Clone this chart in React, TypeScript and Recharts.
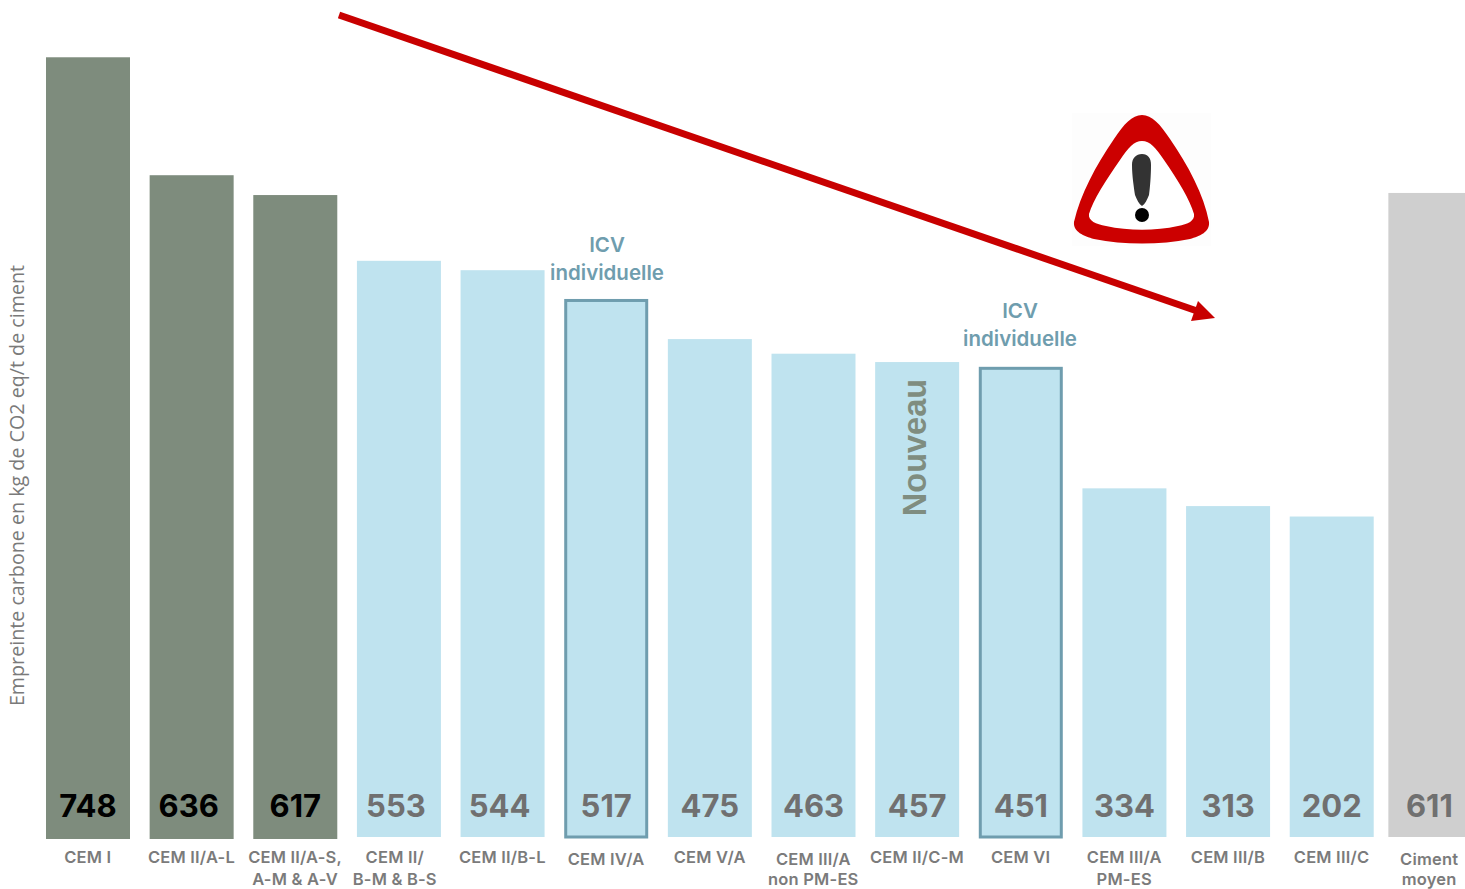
import React from 'react';
import { BarChart, Bar, XAxis, YAxis, LabelList } from 'recharts';

// bar heights; the printed labels do not always match them
const categories = [
  'CEM I', 'CEM II/A-L', 'CEM II/A-S,|A-M & A-V', 'CEM II/|B-M & B-S', 'CEM II/B-L', 'CEM IV/A', 'CEM V/A',
  'CEM III/A|non PM-ES', 'CEM II/C-M', 'CEM VI', 'CEM III/A|PM-ES', 'CEM III/B', 'CEM III/C', 'Ciment|moyen',
];
const heights = [748, 635, 616, 553, 544, 515, 478, 464, 456, 450, 335, 318, 308, 618];
const printedValues = [748, 636, 617, 553, 544, 517, 475, 463, 457, 451, 334, 313, 202, 611];
const groups = ['base', 'base', 'base', 'low', 'low', 'icv', 'low', 'low', 'low', 'icv', 'low', 'low', 'low', 'avg'];
const notes = ['', '', '', '', '', '', '', '', 'Nouveau', '', '', '', '', ''];

const chartData = categories.map((name, i) => ({
  name,
  height: heights[i],
  printed: printedValues[i],
  group: groups[i],
  note: notes[i],
}));

const FILL: Record<string, string> = { base: '#7e8c7d', low: '#bfe3ef', icv: '#bfe3ef', avg: '#cfcfcf' };
const TEAL = '#6f9dae';
const FONT = 'Inter, sans-serif';

const BarShape = (props: any) => {
  const { x, y, width, height, index, payload } = props;
  // the average bar sits a little closer to its neighbour than the regular step
  const shift = index === 13 ? -5 : 0;
  const isIcv = payload.group === 'icv';
  return (
    <rect
      x={x + shift + (isIcv ? 1.5 : 0)}
      y={y}
      width={width - (isIcv ? 3 : 0)}
      height={height + (payload.group === 'base' ? 1 : -1)}
      fill={FILL[payload.group]}
      stroke={isIcv ? TEAL : 'none'}
      strokeWidth={isIcv ? 3 : 0}
    />
  );
};

const valueNudge: Record<number, number> = { 1: -3, 3: -3, 4: -3, 13: -6 };

const ValueLabel = (props: any) => {
  const { x, width, index, value } = props;
  return (
    <text
      x={x + width / 2 + (valueNudge[index] || 0)}
      y={817}
      textAnchor="middle"
      fontFamily={FONT}
      fontWeight={700}
      fontSize={31}
      fill={index < 3 ? '#000000' : '#707070'}
    >
      {value}
    </text>
  );
};

const NoteLabel = (props: any) => {
  const { x, width, value } = props;
  if (!value) return null;
  return (
    <text
      transform={`translate(${x + width / 2 + 9} 447.5) rotate(-90)`}
      textAnchor="middle"
      fontFamily='"Liberation Sans", sans-serif'
      fontWeight={700}
      fontSize={32.5}
      fill="#7f8d80"
    >
      {value}
    </text>
  );
};

const tickNudge: Record<number, number> = { 3: -4, 13: -6 };
const tickDrop: Record<number, number> = { 5: 2, 7: 2, 13: 2 };

const CategoryTick = (props: any) => {
  const { x, index, payload } = props;
  const lines = String(payload.value).split('|');
  return (
    <g>
      {lines.map((line, i) => (
        <text
          key={line}
          x={x + (tickNudge[index] || 0)}
          y={i === 0 ? 863 + (tickDrop[index] || 0) : 884.5}
          textAnchor="middle"
          fontFamily={FONT}
          fontWeight={600}
          fontSize={16.5}
          letterSpacing={0.2}
          fill="#7b7b7b"
        >
          {line}
        </text>
      ))}
    </g>
  );
};

const Arrow = () => (
  <g>
    <line x1={339} y1={15} x2={1200} y2={312} stroke="#c80000" strokeWidth={7} />
    <polygon points="1215,318 1198,301 1191,321" fill="#c80000" />
  </g>
);

const WarningSign = () => (
  <g>
    <rect x={1072} y={113} width={139} height={133} fill="#fdfdfd" />
    <path
      d="M1142 115 C1152 115 1160 124 1170 139 C1188 165 1204 195 1209 222 C1210 232 1200 236 1190 239 C1160 245 1124 245 1094 239 C1084 236 1073 232 1074 222 C1080 195 1096 165 1114 139 C1124 124 1132 115 1142 115 Z"
      fill="#cc0000"
    />
    <path
      d="M1142 141 C1150 141 1156 148 1164 160 C1178 180 1190 200 1194 214 C1195 221 1188 224 1178 226 C1155 231 1129 231 1106 226 C1096 224 1088 221 1089 214 C1093 200 1106 180 1120 160 C1128 148 1134 141 1142 141 Z"
      fill="#ffffff"
    />
    <path
      d="M1142 154 C1148 154 1151 158 1151 165 C1151 176 1150 188 1149 195 C1147 200 1145 204 1142 206 C1139 204 1137 200 1135 195 C1134 188 1132 176 1132 165 C1132 158 1136 154 1142 154 Z"
      fill="#333333"
    />
    <circle cx={1142} cy={215} r={7} fill="#000000" />
  </g>
);

const IcvNote = ({ x, y }: { x: number; y: number }) => (
  <g fontFamily={FONT} fontWeight={600} fontSize={20.5} fill={TEAL} textAnchor="middle">
    <text x={x} y={y}>ICV</text>
    <text x={x} y={y + 28}>individuelle</text>
  </g>
);

export default function App() {
  return (
    <div style={{ position: 'absolute', left: 0, top: 0, width: 1465, height: 889, overflow: 'hidden', background: '#fff' }}>
      <BarChart
        width={1487}
        height={889}
        data={chartData}
        margin={{ top: 3, right: 0, bottom: 0, left: 0 }}
        barCategoryGap={10}
      >
        <XAxis dataKey="name" axisLine={false} tickLine={false} height={51} interval={0} tick={<CategoryTick />} />
        <YAxis
          domain={[0, 800]}
          width={36}
          axisLine={false}
          tickLine={false}
          tick={false}
          label={{
            value: 'Empreinte carbone en kg de CO2 eq/t de ciment',
            angle: -90,
            position: 'insideLeft',
            dx: 12,
            dy: 65,
            style: { fontFamily: '"Open Sans", sans-serif', fontSize: 19.7, fill: '#7a7a7a', textAnchor: 'middle' },
          }}
        />
        <Bar dataKey="height" isAnimationActive={false} shape={<BarShape />}>
          <LabelList dataKey="printed" content={<ValueLabel />} />
          <LabelList dataKey="note" content={<NoteLabel />} />
        </Bar>
        <Arrow />
        <WarningSign />
        <IcvNote x={607} y={252} />
        <IcvNote x={1020} y={318} />
      </BarChart>
    </div>
  );
}
